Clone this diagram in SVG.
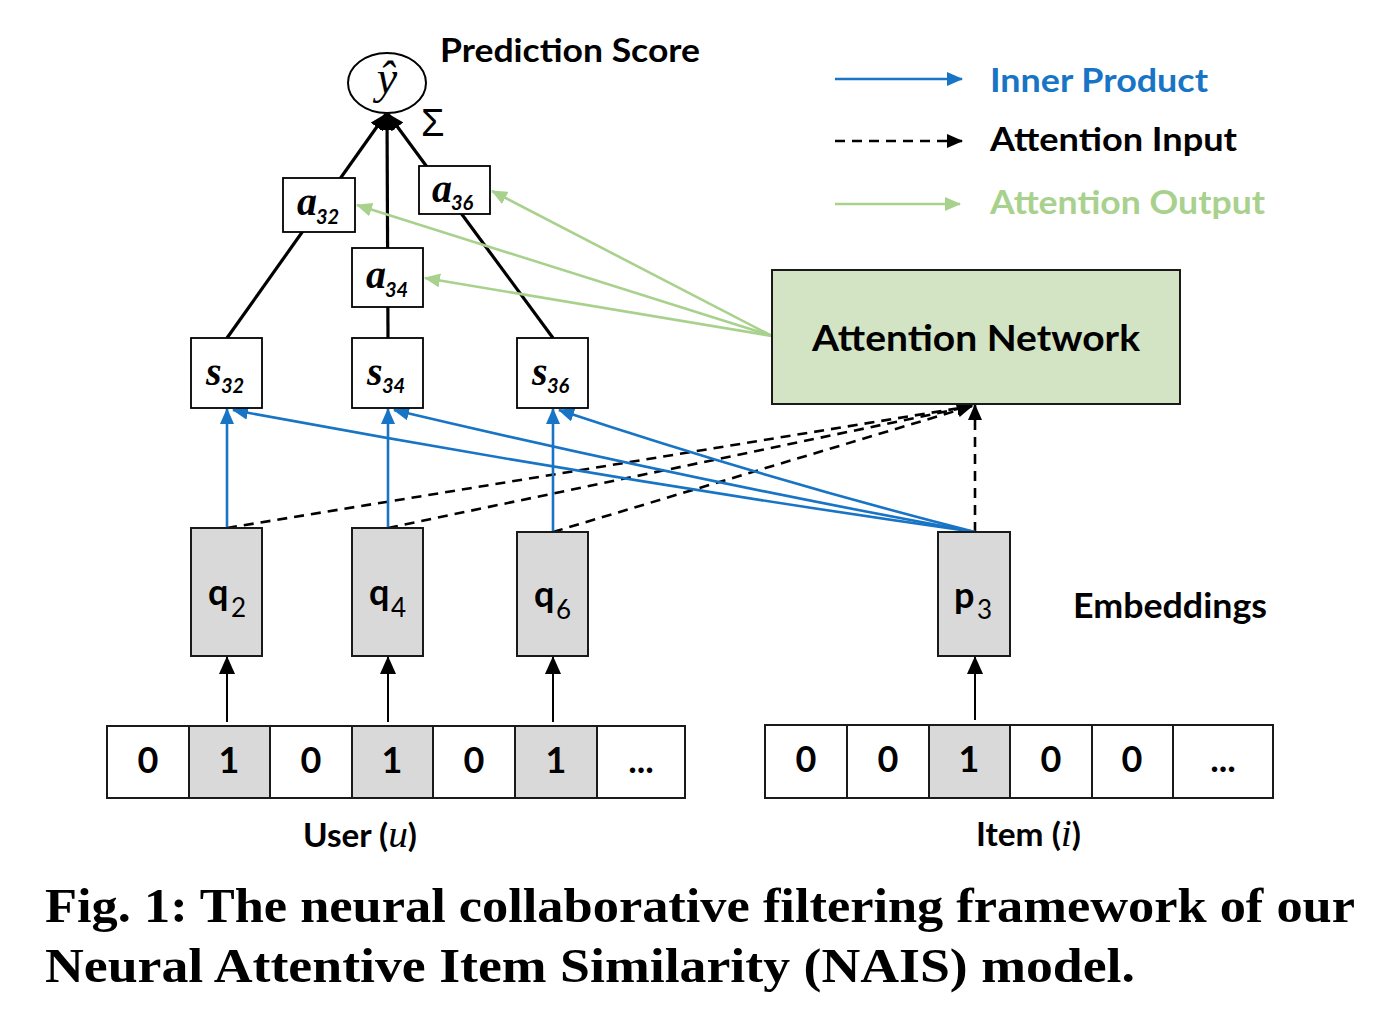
<svg xmlns="http://www.w3.org/2000/svg" width="1382" height="1024" viewBox="0 0 1382 1024">
<defs>
<style>
.lbl{font-family:Lato,"Open Sans","Liberation Sans",sans-serif;font-weight:bold;fill:#000}
.box{fill:#fff;stroke:#000;stroke-width:1.8}
.emb{fill:#d9d9d9;stroke:#1a1a1a;stroke-width:2}
.cell{fill:#fff;stroke:#1a1a1a;stroke-width:2}
.gcell{fill:#d9d9d9;stroke:#1a1a1a;stroke-width:2}
.var{font-family:"Liberation Serif","Times New Roman",serif;font-style:italic;font-weight:bold;font-size:40px}
.sub{font-family:Lato,"Liberation Sans",sans-serif;font-style:italic;font-weight:bold;font-size:20px}
.tree{stroke:#000;stroke-width:3.2;fill:none}
.blue{stroke:#1874c4;stroke-width:2.6;fill:none}
.green{stroke:#a9d18e;stroke-width:2.6;fill:none}
.dash{stroke:#000;stroke-width:2.6;fill:none;stroke-dasharray:10 7}
.blk{stroke:#000;stroke-width:2;fill:none}
.dig{font-family:Lato,"Liberation Sans",sans-serif;font-weight:bold;font-size:36px;text-anchor:middle}
.cap{font-family:"Liberation Serif","Times New Roman",serif;font-weight:bold;font-size:48px}
.esub{font-family:Lato,"Liberation Sans",sans-serif;font-size:26px}
</style>
<marker id="mBlue" viewBox="0 0 16 14" refX="15" refY="7" markerWidth="16" markerHeight="14" orient="auto" markerUnits="userSpaceOnUse"><path d="M0,0L16,7L0,14z" fill="#1874c4"/></marker>
<marker id="mGreen" viewBox="0 0 16 14" refX="15" refY="7" markerWidth="16" markerHeight="14" orient="auto" markerUnits="userSpaceOnUse"><path d="M0,0L16,7L0,14z" fill="#a9d18e"/></marker>
<marker id="mBlack" viewBox="0 0 16 14" refX="15" refY="7" markerWidth="16" markerHeight="14" orient="auto" markerUnits="userSpaceOnUse"><path d="M0,0L16,7L0,14z" fill="#000"/></marker>
<marker id="mApex" viewBox="0 0 17 15" refX="16" refY="7.5" markerWidth="17" markerHeight="15" orient="auto" markerUnits="userSpaceOnUse"><path d="M0,0L17,7.5L0,15z" fill="#000"/></marker>
<marker id="mUp" viewBox="0 0 18 16" refX="17" refY="8" markerWidth="18" markerHeight="16" orient="auto" markerUnits="userSpaceOnUse"><path d="M0,0L18,8L0,16z" fill="#000"/></marker>
</defs>
<rect width="1382" height="1024" fill="#fff"/>

<g id="connectors">
  <line class="tree" x1="227" y1="338" x2="386" y2="114" marker-end="url(#mApex)"/>
  <line class="tree" x1="388" y1="338" x2="387" y2="114" marker-end="url(#mApex)"/>
  <line class="tree" x1="553" y1="338" x2="388" y2="114" marker-end="url(#mApex)"/>
  <line class="green" x1="772" y1="336" x2="357" y2="205" marker-end="url(#mGreen)"/>
  <line class="green" x1="772" y1="336" x2="425" y2="278" marker-end="url(#mGreen)"/>
  <line class="green" x1="772" y1="336" x2="492" y2="191" marker-end="url(#mGreen)"/>
  <line class="dash" x1="227" y1="528" x2="972" y2="406" marker-end="url(#mBlack)"/>
  <line class="dash" x1="388" y1="528" x2="972" y2="406" marker-end="url(#mBlack)"/>
  <line class="dash" x1="553" y1="532" x2="972" y2="406" marker-end="url(#mBlack)"/>
  <line class="dash" x1="975" y1="532" x2="975" y2="405" marker-end="url(#mBlack)"/>
  <line class="blue" x1="227" y1="528" x2="227" y2="409" marker-end="url(#mBlue)"/>
  <line class="blue" x1="388" y1="528" x2="388" y2="409" marker-end="url(#mBlue)"/>
  <line class="blue" x1="553" y1="532" x2="553" y2="409" marker-end="url(#mBlue)"/>
  <path class="blue" d="M975,532 Q610,480 233,410" marker-end="url(#mBlue)"/>
  <path class="blue" d="M975,532 Q690,480 394,410" marker-end="url(#mBlue)"/>
  <path class="blue" d="M975,532 Q770,480 559,410" marker-end="url(#mBlue)"/>
  <line class="blk" x1="227" y1="722" x2="227" y2="657" marker-end="url(#mUp)"/>
  <line class="blk" x1="388" y1="722" x2="388" y2="657" marker-end="url(#mUp)"/>
  <line class="blk" x1="553" y1="722" x2="553" y2="657" marker-end="url(#mUp)"/>
  <line class="blk" x1="975" y1="720" x2="975" y2="657" marker-end="url(#mUp)"/>
</g>

<g id="prediction">
  <ellipse cx="387" cy="83" rx="39" ry="30" fill="#fff" stroke="#000" stroke-width="2"/>
  <text x="387" y="93" text-anchor="middle" font-family="'Liberation Serif','Times New Roman',serif" font-style="italic" font-size="46">ŷ</text>
  <text x="421" y="136" font-family="'Liberation Sans',Arial,sans-serif" font-size="38">Σ</text>
  <text class="lbl" x="440" y="62" font-size="33" textLength="260" lengthAdjust="spacingAndGlyphs">Prediction Score</text>
</g>

<g id="a32"><rect class="box" x="283" y="178" width="72" height="54"/><text class="var" x="297" y="215">a</text><text class="sub" x="316" y="224">32</text></g>
<g id="a34"><rect class="box" x="352" y="248" width="71" height="59"/><text class="var" x="366" y="288">a</text><text class="sub" x="385" y="297">34</text></g>
<g id="a36"><rect class="box" x="419" y="166" width="71" height="48"/><text class="var" x="432" y="202">a</text><text class="sub" x="451" y="210">36</text></g>

<g id="s32"><rect class="box" x="191" y="338" width="71" height="70"/><text class="var" x="206" y="385">s</text><text class="sub" x="221" y="393">32</text></g>
<g id="s34"><rect class="box" x="352" y="338" width="71" height="70"/><text class="var" x="367" y="385">s</text><text class="sub" x="382" y="393">34</text></g>
<g id="s36"><rect class="box" x="517" y="338" width="71" height="70"/><text class="var" x="532" y="385">s</text><text class="sub" x="547" y="393">36</text></g>

<g id="attention-network">
  <rect x="772" y="270" width="408" height="134" fill="#d2e4c4" stroke="#1a1a1a" stroke-width="2"/>
  <text class="lbl" x="812" y="351" font-size="37" textLength="328" lengthAdjust="spacingAndGlyphs">Attention Network</text>
</g>

<g id="q2"><rect class="emb" x="191" y="528" width="71" height="128"/><text class="lbl" x="208" y="605" font-size="36">q</text><text class="esub" x="231" y="617">2</text></g>
<g id="q4"><rect class="emb" x="352" y="528" width="71" height="128"/><text class="lbl" x="369" y="605" font-size="36">q</text><text class="esub" x="391" y="617">4</text></g>
<g id="q6"><rect class="emb" x="517" y="532" width="71" height="124"/><text class="lbl" x="534" y="607" font-size="36">q</text><text class="esub" x="556" y="619">6</text></g>
<g id="p3"><rect class="emb" x="938" y="532" width="72" height="124"/><text class="lbl" x="954" y="608" font-size="36">p</text><text class="esub" x="977" y="619">3</text></g>
<g id="embeddings-label"><text class="lbl" x="1073" y="618" font-size="34" textLength="194" lengthAdjust="spacingAndGlyphs">Embeddings</text></g>

<g id="user-vector">
  <rect class="cell" x="107" y="726" width="82" height="72"/>
  <rect class="gcell" x="189" y="726" width="81" height="72"/>
  <rect class="cell" x="270" y="726" width="82" height="72"/>
  <rect class="gcell" x="352" y="726" width="81" height="72"/>
  <rect class="cell" x="433" y="726" width="82" height="72"/>
  <rect class="gcell" x="515" y="726" width="82" height="72"/>
  <rect class="cell" x="597" y="726" width="88" height="72"/>
  <text class="dig" x="148" y="773">0</text>
  <text class="dig" x="229" y="773">1</text>
  <text class="dig" x="311" y="773">0</text>
  <text class="dig" x="392" y="773">1</text>
  <text class="dig" x="474" y="773">0</text>
  <text class="dig" x="556" y="773">1</text>
  <text class="dig" x="641" y="773">...</text>
  <text class="lbl" x="303" y="847" font-size="32" textLength="114" lengthAdjust="spacingAndGlyphs">User (<tspan font-family="'Liberation Serif','Times New Roman',serif" font-style="italic" font-weight="normal" font-size="38">u</tspan>)</text>
</g>

<g id="item-vector">
  <rect class="cell" x="765" y="725" width="82" height="73"/>
  <rect class="cell" x="847" y="725" width="82" height="73"/>
  <rect class="gcell" x="929" y="725" width="81" height="73"/>
  <rect class="cell" x="1010" y="725" width="82" height="73"/>
  <rect class="cell" x="1092" y="725" width="81" height="73"/>
  <rect class="cell" x="1173" y="725" width="100" height="73"/>
  <text class="dig" x="806" y="772">0</text>
  <text class="dig" x="888" y="772">0</text>
  <text class="dig" x="969" y="772">1</text>
  <text class="dig" x="1051" y="772">0</text>
  <text class="dig" x="1132" y="772">0</text>
  <text class="dig" x="1223" y="772">...</text>
  <text class="lbl" x="976" y="846" font-size="32" textLength="105" lengthAdjust="spacingAndGlyphs">Item (<tspan font-family="'Liberation Serif','Times New Roman',serif" font-style="italic" font-weight="normal" font-size="38">i</tspan>)</text>
</g>

<g id="legend">
  <line class="blue" x1="835" y1="79" x2="962" y2="79" marker-end="url(#mBlue)"/>
  <text class="lbl" x="990" y="92" font-size="33" style="fill:#1874c4" textLength="218" lengthAdjust="spacingAndGlyphs">Inner Product</text>
  <line class="dash" x1="835" y1="141" x2="962" y2="141" marker-end="url(#mBlack)"/>
  <text class="lbl" x="990" y="151" font-size="33" textLength="247" lengthAdjust="spacingAndGlyphs">Attention Input</text>
  <line class="green" x1="835" y1="204" x2="960" y2="204" marker-end="url(#mGreen)"/>
  <text class="lbl" x="990" y="214" font-size="33" style="fill:#a9d18e" textLength="275" lengthAdjust="spacingAndGlyphs">Attention Output</text>
</g>

<g id="caption">
  <text class="cap" x="45" y="922" textLength="1310" lengthAdjust="spacingAndGlyphs">Fig. 1: The neural collaborative filtering framework of our</text>
  <text class="cap" x="45" y="982" textLength="1090" lengthAdjust="spacingAndGlyphs">Neural Attentive Item Similarity (NAIS) model.</text>
</g>
</svg>
